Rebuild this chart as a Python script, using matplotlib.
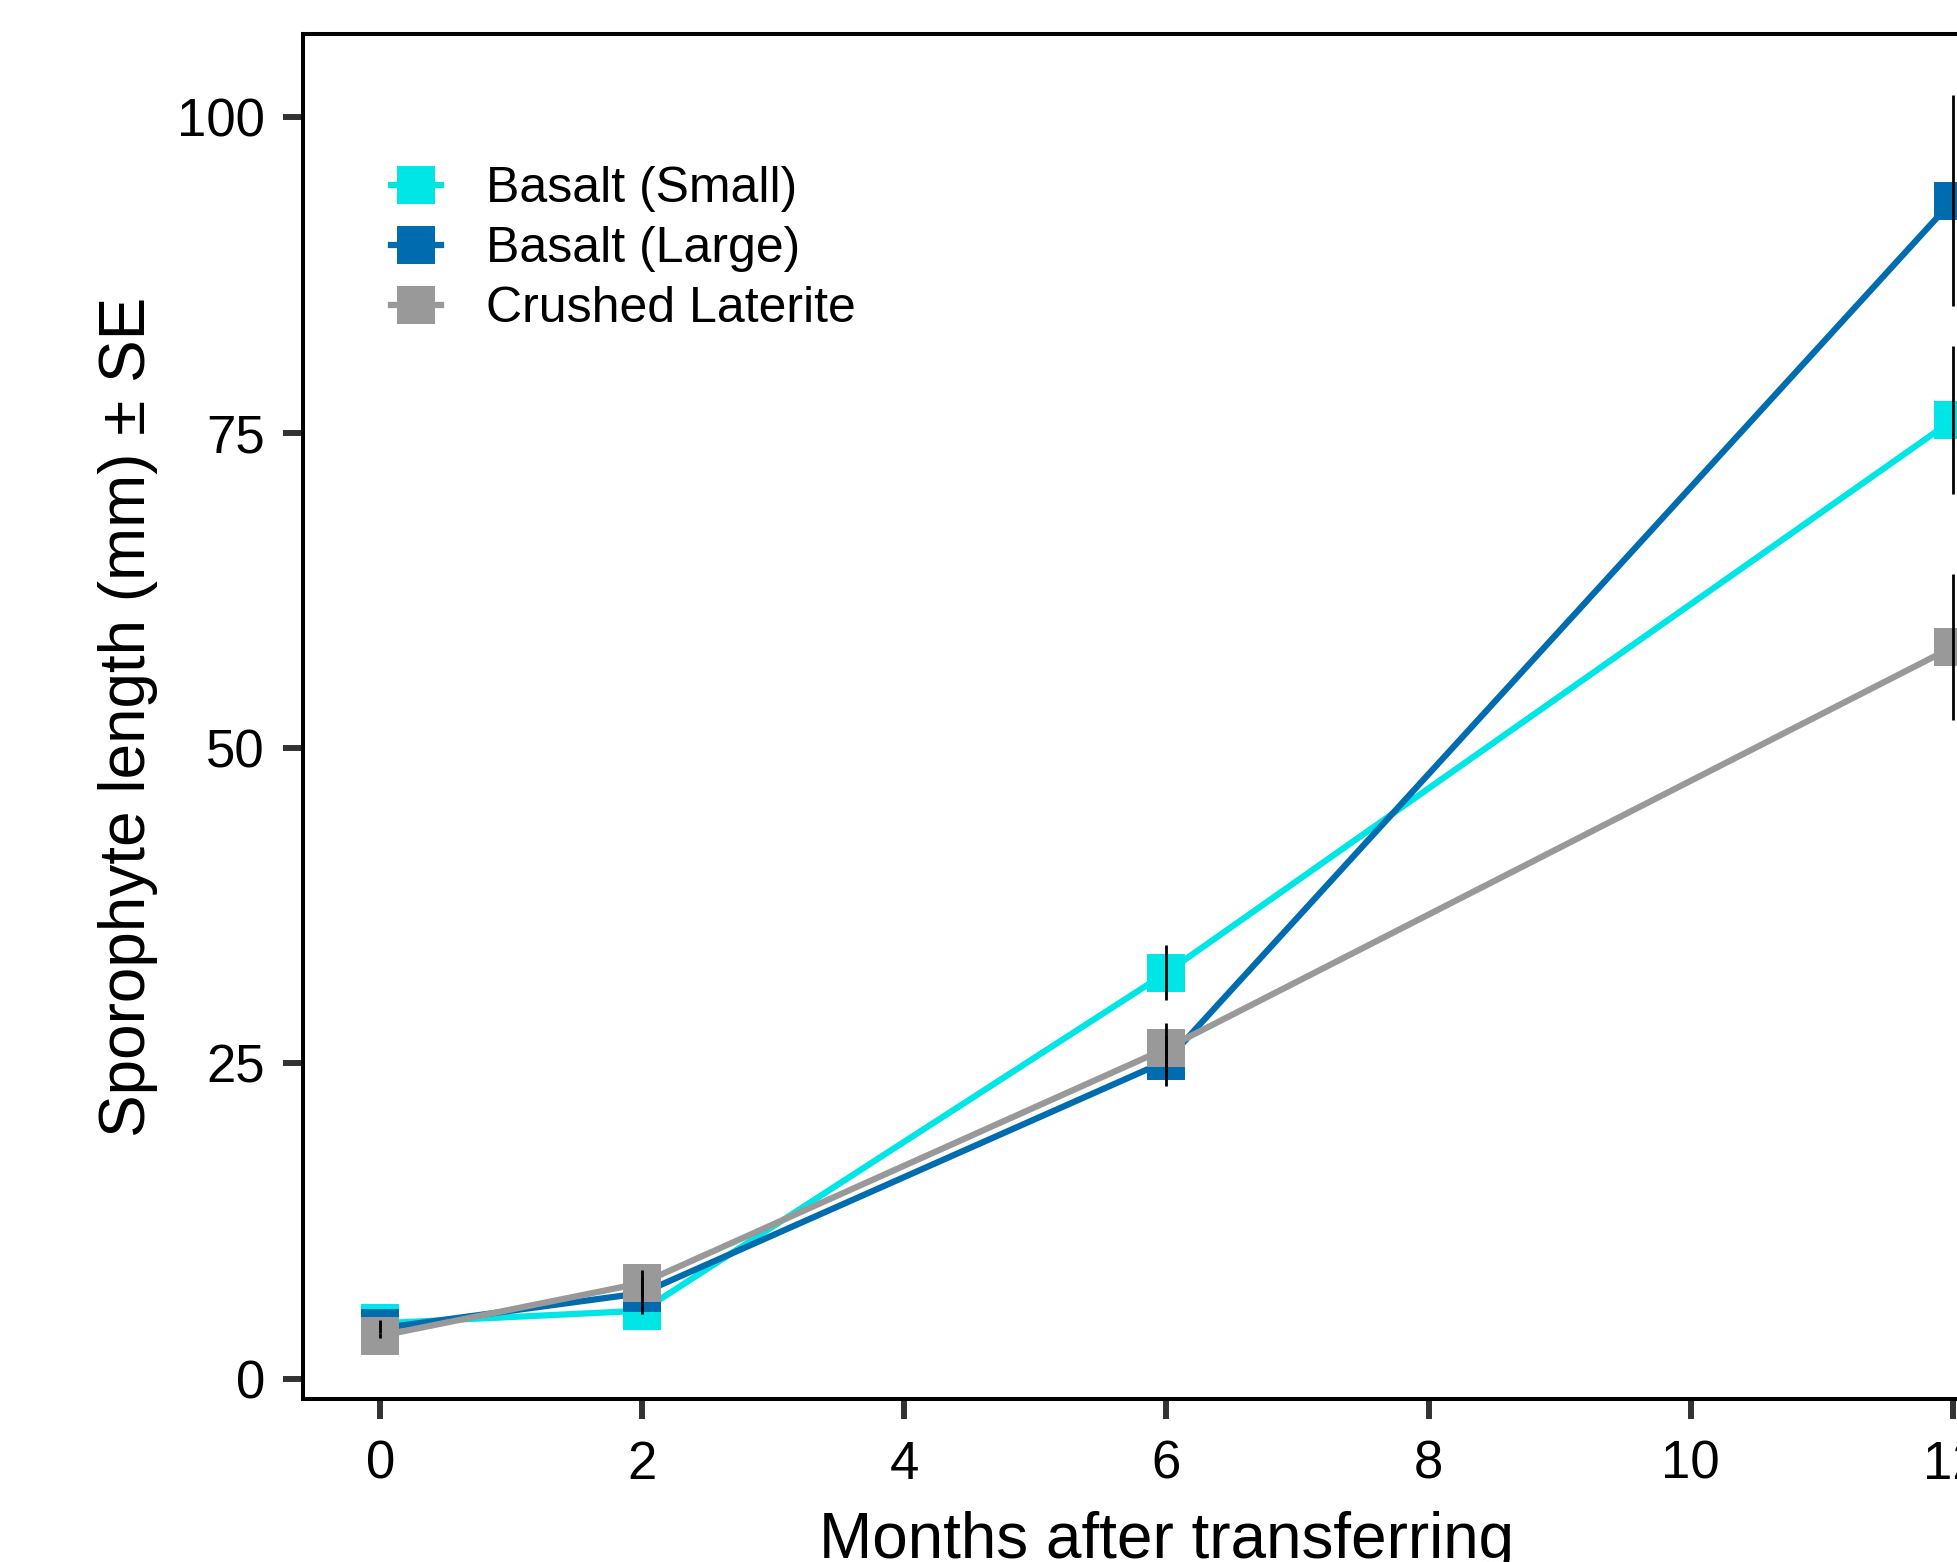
import matplotlib
matplotlib.use("Agg")
import matplotlib.pyplot as plt
from matplotlib.lines import Line2D

months = [0, 2, 6, 12]
series_names = ["Basalt (Small)", "Basalt (Large)", "Crushed Laterite"]
colors = ["#00E6E6", "#006CB0", "#999999"]

basalt_small = [4.4, 5.4, 32.2, 76.0]
basalt_small_se = [0.3, 0.3, 2.2, 5.9]
basalt_large = [4.0, 6.8, 25.2, 93.4]
basalt_large_se = [0.4, 1.3, 2.0, 8.4]
laterite = [3.4, 7.6, 26.2, 58.0]
laterite_se = [0.2, 1.0, 2.0, 5.8]

values = [basalt_small, basalt_large, laterite]
errors = [basalt_small_se, basalt_large_se, laterite_se]

xticks = [0, 2, 4, 6, 8, 10, 12]
yticks = [0, 25, 50, 75, 100]

plt.rcParams['font.family'] = ['Liberation Sans', 'DejaVu Sans']

W, H = 1957, 1562
fig = plt.figure(figsize=(W / 100, H / 100), dpi=100)
ax = fig.add_axes([303 / W, 163 / H, (2030 - 303) / W, (1528 - 163) / H])

for i, (v, e) in enumerate(zip(values, errors)):
    ax.plot(months, v, color=colors[i], lw=4.5, marker='s', ms=27,
            markeredgewidth=0, zorder=2 + i, solid_capstyle='butt')
for i, (v, e) in enumerate(zip(values, errors)):
    ax.errorbar(months, v, yerr=e, fmt='none', ecolor='black', elinewidth=2.0,
                capsize=0, zorder=10)

ax.set_xlim(-0.59, 12.59)
ax.set_ylim(-1.6, 106.6)
ax.set_xticks(xticks)
ax.set_yticks(yticks)
ax.tick_params(axis='both', labelsize=38, length=14.4, width=4.3, color='#333333')
ax.tick_params(axis='y', pad=13)
ax.tick_params(axis='x', pad=15)
for s in ax.spines.values():
    s.set_linewidth(2.9)
    s.set_color('black')

ax.set_xlabel("Months after transferring", fontsize=46, labelpad=15)
ax.set_ylabel("Sporophyte length (mm) ± SE", fontsize=46, labelpad=14)

handles = [Line2D([], [], color=c, lw=4.5, marker='s', ms=27, markeredgewidth=0)
           for c in colors]
ax.legend(handles, series_names, loc='upper left', bbox_to_anchor=(0.051, 0.903),
          frameon=False, fontsize=36, handlelength=1.0, handletextpad=0.9,
          labelspacing=0.28, borderpad=0, borderaxespad=0)

fig.savefig("out.png", dpi=100)
